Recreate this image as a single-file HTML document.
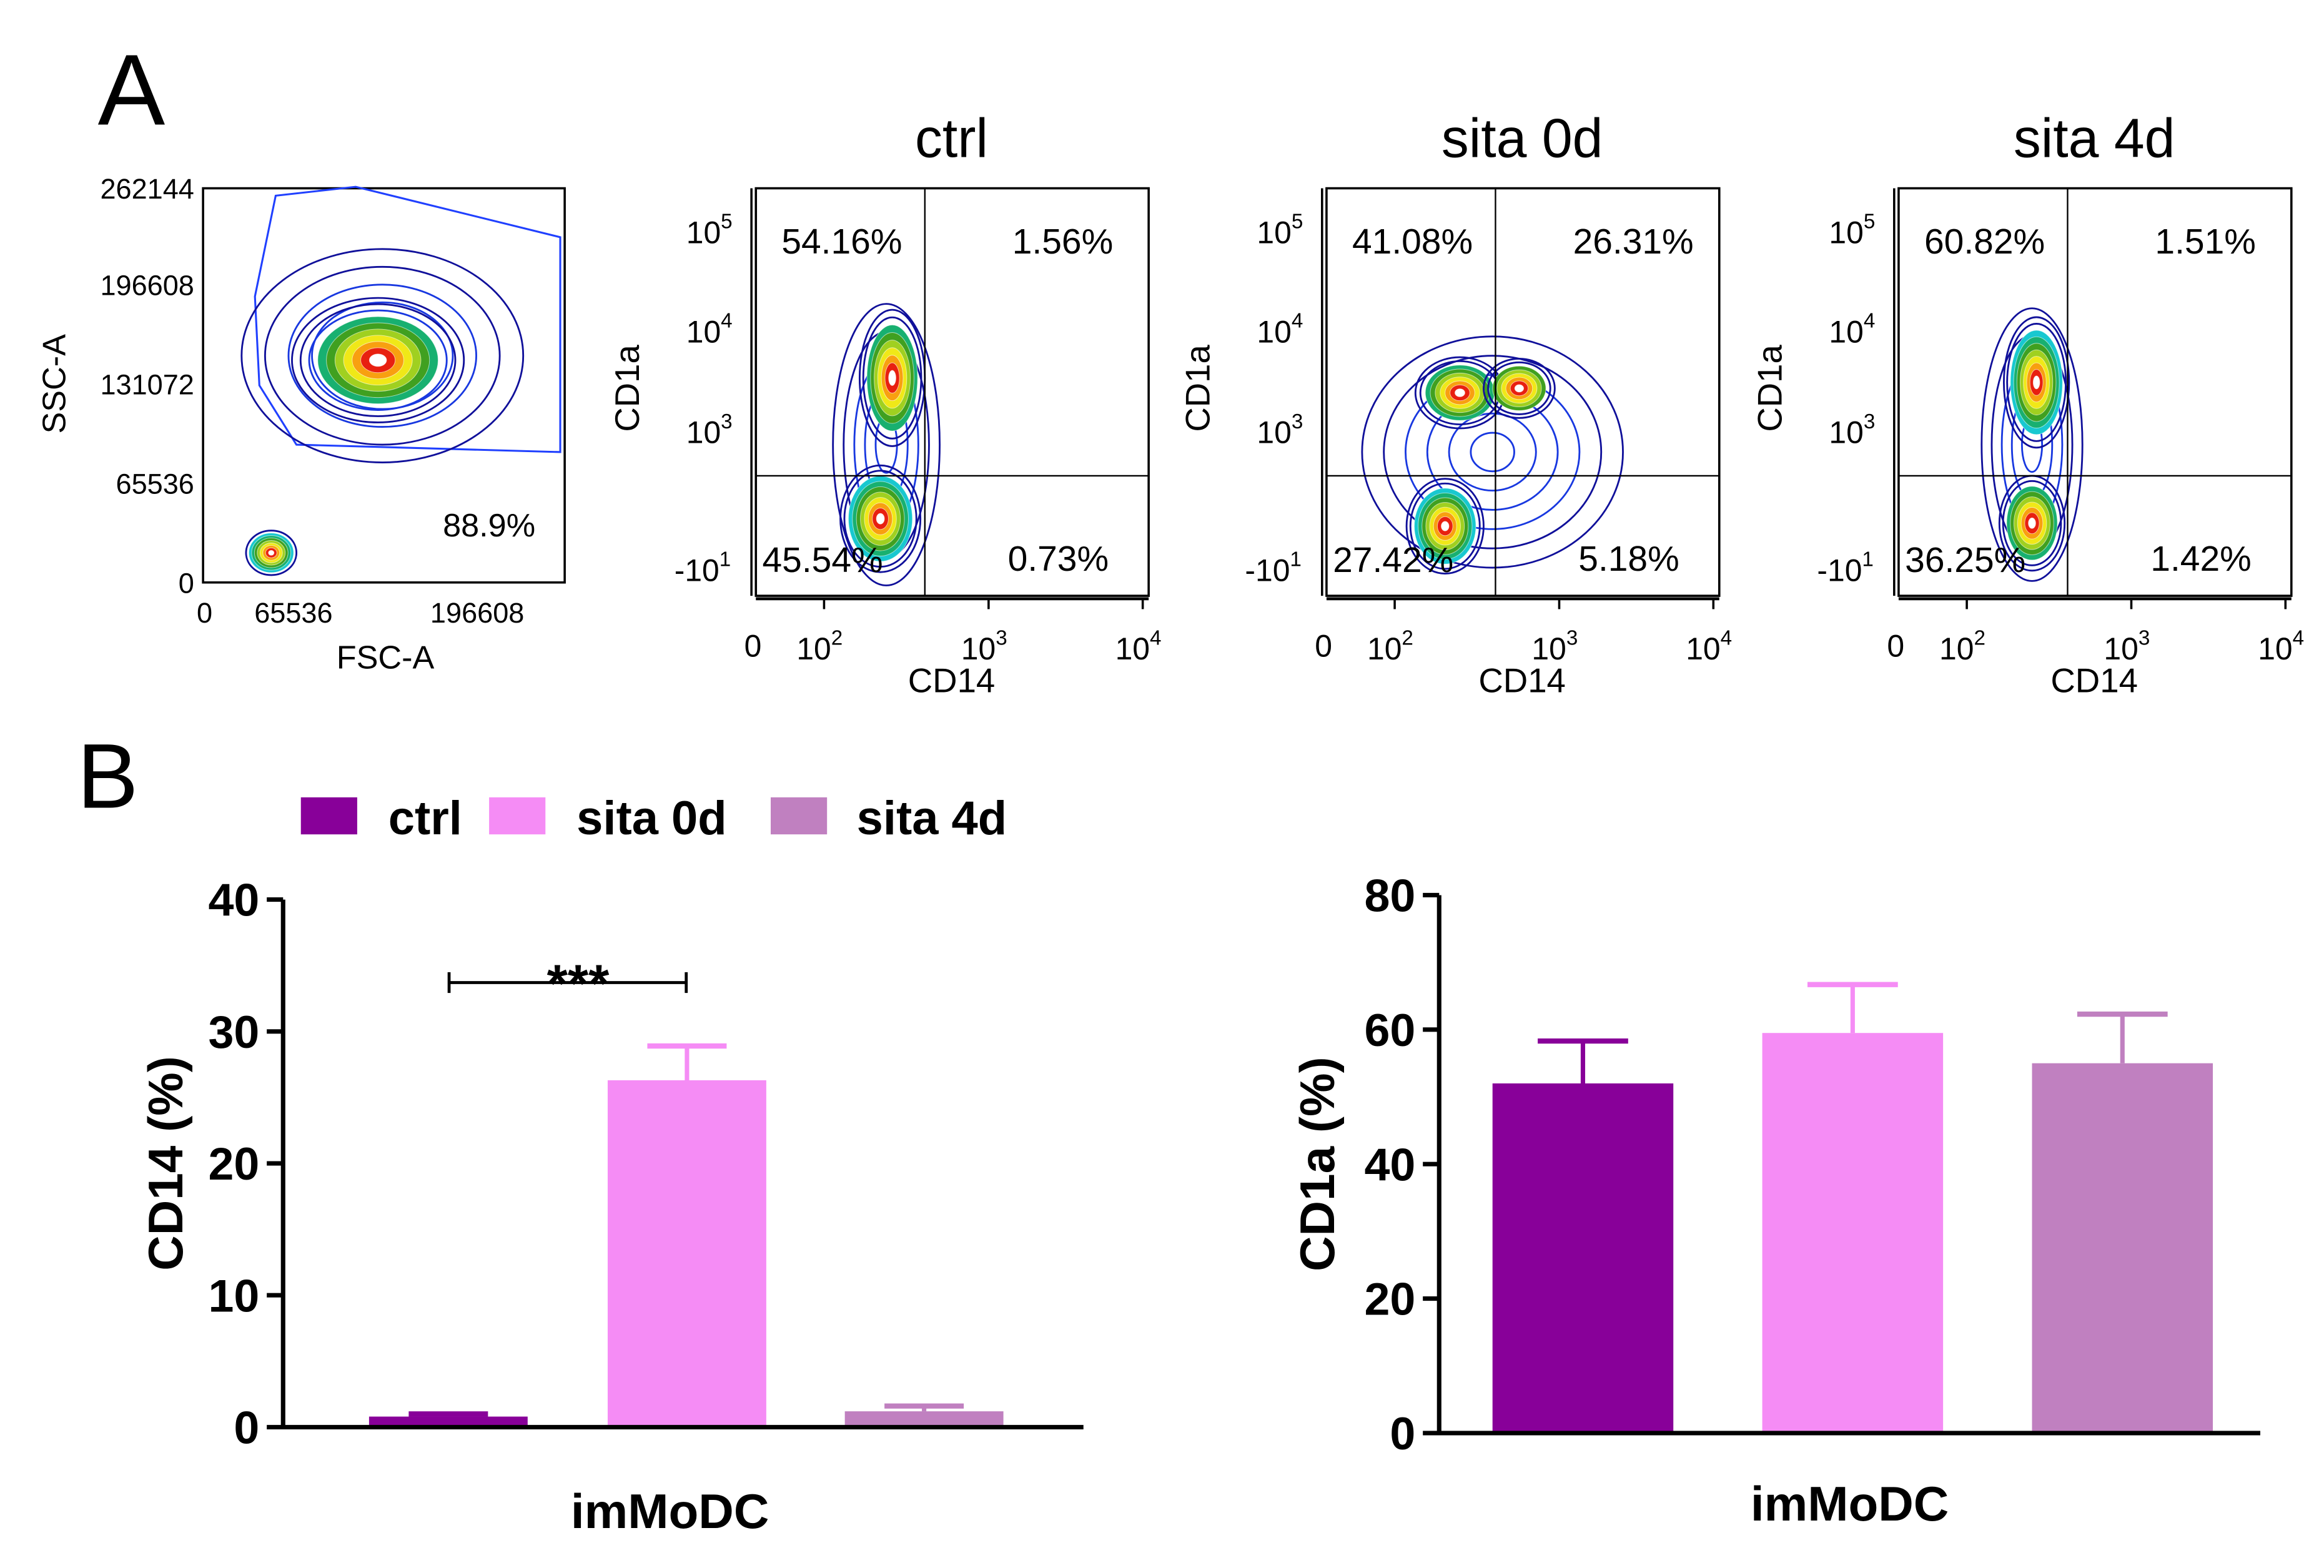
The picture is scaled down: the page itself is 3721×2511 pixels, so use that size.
<!DOCTYPE html>
<html><head><meta charset="utf-8"><style>
html,body{margin:0;padding:0;background:#fff}
svg{display:block}
text{font-family:"Liberation Sans",Arial,sans-serif}
</style></head><body>
<svg id="fig" width="3721" height="2511" viewBox="0 0 1568 1058" xmlns="http://www.w3.org/2000/svg">
<rect width="1568" height="1058" fill="#fff"/>
<text x="66" y="84" font-size="68">A</text>
<text x="52" y="545" font-size="62">B</text>

<g id="fsc">
  <rect x="137" y="127" width="244" height="266" fill="none" stroke="#000" stroke-width="1.5"/>
  <polygon points="186,132 240,126 378,160 378,305 200,300 175,260 172,200" fill="none" stroke="#2040ff" stroke-width="1.3"/>
  <g font-size="19" text-anchor="end">
    <text x="131" y="134">262144</text><text x="131" y="199">196608</text><text x="131" y="266">131072</text><text x="131" y="333">65536</text><text x="131" y="400">0</text>
  </g>
  <g font-size="19" text-anchor="middle">
    <text x="138" y="420">0</text><text x="198" y="420">65536</text><text x="322" y="420">196608</text>
  </g>
  <text x="260" y="451" font-size="22" text-anchor="middle">FSC-A</text>
  <text transform="translate(44,259) rotate(-90)" font-size="22" text-anchor="middle">SSC-A</text>
  <text x="330" y="362" font-size="22" text-anchor="middle">88.9%</text>
</g>
<g id="blobs"></g>

<g font-size="32" font-weight="bold">
  <rect x="203" y="538" width="38" height="25" fill="#880099"/>
  <text x="262" y="563">ctrl</text>
  <rect x="330" y="538" width="38" height="25" fill="#f58cf5"/>
  <text x="389" y="563">sita 0d</text>
  <rect x="520" y="538" width="38" height="25" fill="#c080c0"/>
  <text x="578" y="563">sita 4d</text>
</g>
<g id="bars"></g>
</svg>
<script>
const NS='http://www.w3.org/2000/svg';
const svg=document.getElementById('fig');
function mk(tag,attrs,parent,txt){const e=document.createElementNS(NS,tag);for(const k in attrs)e.setAttribute(k,attrs[k]);if(txt!==undefined)e.textContent=txt;(parent||svg).appendChild(e);return e;}

const panelTitles=['ctrl','sita 0d','sita 4d'];
const panelOffsets=[0,385,771];
const ulPct=['54.16%','41.08%','60.82%'];
const urPct=['1.56%','26.31%','1.51%'];
const llPct=['45.54%','27.42%','36.25%'];
const lrPct=['0.73%','5.18%','1.42%'];
const blobColors=['#1a8cf0','#18c8d0','#18b070','#40a020','#a0d020','#f0e818','#f8a010','#e82010','#ffffff'];

// outline rings (blue contour lines), then filled core
function blob(g,cx,cy,rx,ry,rings,core){
  for(let i=0;i<rings;i++){
    const f=1-i/(rings+core);
    mk('ellipse',{cx:cx,cy:cy,rx:rx*f,ry:ry*f,fill:'none',stroke:i<2?'#10109a':'#1838e0','stroke-width':1.2},g);
  }
  for(let j=0;j<core;j++){
    const f=1-(rings+j)/(rings+core);
    mk('ellipse',{cx:cx,cy:cy,rx:Math.max(1.5,rx*f),ry:Math.max(1.5,ry*f),fill:blobColors[Math.min(j+ (9-core),blobColors.length-1)],stroke:'#fff','stroke-width':0.4,'stroke-opacity':0.6},g);
  }
}
const bg=document.getElementById('blobs');
blob(bg,258,240,95,72,6,0);
blob(bg,255,243,58,42,3,7);
blob(bg,183,373,17,15,1,8);

panelTitles.forEach((t,i)=>{
  const o=panelOffsets[i];
  const g=mk('g',{},svg);
  
  
  if(i===0){
    blob(g,598,300,36,95,5,0);
    blob(g,602,255,22,46,2,7);
    blob(g,594,350,27,36,2,8);
  }else if(i===1){
    blob(g,o+622,305,88,78,6,0);
    blob(g,o+600,265,30,24,2,7);
    blob(g,o+640,262,24,20,2,6);
    blob(g,o+590,355,26,32,2,8);
  }else{
    blob(g,o+600,300,34,92,5,0);
    blob(g,o+603,258,22,44,2,8);
    blob(g,o+600,353,22,32,2,7);
  }
  mk('rect',{x:o+510,y:127,width:265,height:275,fill:'none',stroke:'#000','stroke-width':1.5},g);
  mk('line',{x1:o+624,y1:127,x2:o+624,y2:402,stroke:'#000','stroke-width':1},g);
  mk('line',{x1:o+510,y1:321,x2:o+775,y2:321,stroke:'#000','stroke-width':1},g);
  const tt=mk('text',{x:o+642,y:106,'font-size':37,'text-anchor':'middle'},g,t);
  
  
  mk('text',{x:o+568,y:171,'font-size':24,'text-anchor':'middle'},g,ulPct[i]);
  mk('text',{x:o+717,y:171,'font-size':24,'text-anchor':'middle'},g,urPct[i]);
  mk('text',{x:o+555,y:386,'font-size':24,'text-anchor':'middle'},g,llPct[i]);
  mk('text',{x:o+714,y:385,'font-size':24,'text-anchor':'middle'},g,lrPct[i]);
  [['10','5',164],['10','4',231],['10','3',299]].forEach(([b,e,y])=>{
    const tx=mk('text',{x:o+463,y:y,'font-size':21},g);
    tx.appendChild(document.createTextNode(b));
    mk('tspan',{dy:-10,'font-size':14},tx,e);
  });
  const ty=mk('text',{x:o+455,y:392,'font-size':21},g);ty.appendChild(document.createTextNode('-10'));mk('tspan',{dy:-10,'font-size':14},ty,'1');
  mk('line',{x1:o+510,y1:404,x2:o+775,y2:404,stroke:'#000','stroke-width':2},g);
  [o+556,o+667,o+771].forEach(x=>mk('line',{x1:x,y1:404,x2:x,y2:411,stroke:'#000','stroke-width':1.5},g));
  mk('text',{x:o+508,y:443,'font-size':21,'text-anchor':'middle'},g,'0');
  [['2',o+553],['3',o+664],['4',o+768]].forEach(([e,x])=>{
    const tx=mk('text',{x:x,y:445,'font-size':21,'text-anchor':'middle'},g);
    tx.appendChild(document.createTextNode('10'));mk('tspan',{dy:-10,'font-size':14},tx,e);
  });
  mk('line',{x1:o+507,y1:127,x2:o+507,y2:402,stroke:'#000','stroke-width':1.5},g);
  const xl=mk('text',{x:o+642,y:467,'font-size':23,'text-anchor':'middle'},g,'CD14');
  
  
  const yl=mk('text',{transform:'translate('+(o+431)+',262) rotate(-90)','font-size':23,'text-anchor':'middle'},g,'CD1a');
  
  
});

const groups=['ctrl','sita 0d','sita 4d'];
const barColors=['#880099','#f58cf5','#c080c0'];
const cd14Values=[0.8,26.3,1.2];
const cd14Errors=[1.0,28.9,1.6];
const cd14Ticks=[0,10,20,30,40];
const cd1aValues=[52,59.5,55];
const cd1aErrors=[58.3,66.7,62.3];
const cd1aTicks=[0,20,40,60,80];

function barChart(cfg){
  const g=mk('g',{},document.getElementById('bars'));
  
  
  const yS=v=>cfg.y0-(v-cfg.min)/(cfg.max-cfg.min)*(cfg.y0-cfg.y1);
  cfg.values.forEach((v,i)=>{
    const x=cfg.barX[i], w=cfg.barW;
    const el=mk('line',{x1:x+w/2,y1:yS(v),x2:x+w/2,y2:yS(cfg.errs[i]),stroke:barColors[i],'stroke-width':3},g);
    
    
    const cap=mk('line',{x1:x+w/4,y1:yS(cfg.errs[i]),x2:x+3*w/4,y2:yS(cfg.errs[i]),stroke:barColors[i],'stroke-width':3.5},g);
    
    
    const r=mk('rect',{x:x,y:yS(v),width:w,height:cfg.y0-yS(v),fill:barColors[i]},g);
    
    
  });
  mk('line',{x1:cfg.ax,y1:cfg.y1,x2:cfg.ax,y2:cfg.y0+1.5,stroke:'#000','stroke-width':3},g);
  mk('line',{x1:cfg.ax,y1:cfg.y0,x2:cfg.xEnd,y2:cfg.y0,stroke:'#000','stroke-width':3},g);
  cfg.ticks.forEach(t=>{
    mk('line',{x1:cfg.ax-11,y1:yS(t),x2:cfg.ax,y2:yS(t),stroke:'#000','stroke-width':3},g);
    const tl=mk('text',{x:cfg.ax-16,y:yS(t)+11,'font-size':31,'font-weight':'bold','text-anchor':'end'},g,String(t));
    
    
  });
  const yt=mk('text',{transform:'translate('+cfg.ytx+','+((cfg.y0+cfg.y1)/2)+') rotate(-90)','font-size':33,'font-weight':'bold','text-anchor':'middle'},g,cfg.ytitle);
  
  
  const xt=mk('text',{x:cfg.xtx,y:cfg.xty,'font-size':33,'font-weight':'bold','text-anchor':'middle'},g,'imMoDC');
  
  
  return {g,yS};
}
const c1=barChart({name:'cd14-bar-chart',values:cd14Values,errs:cd14Errors,ticks:cd14Ticks,min:0,max:40,y0:963,y1:607,ax:191,xEnd:731,barX:[249,410,570],barW:107,ytitle:'CD14 (%)',ytx:123,xtx:452,xty:1031});
const sig=mk('g',{},c1.g);


mk('line',{x1:303,y1:663,x2:463,y2:663,stroke:'#000','stroke-width':2},sig);
mk('line',{x1:303,y1:656,x2:303,y2:670,stroke:'#000','stroke-width':2},sig);
mk('line',{x1:463,y1:656,x2:463,y2:670,stroke:'#000','stroke-width':2},sig);
mk('text',{x:390,y:676,'font-size':36,'font-weight':'bold','text-anchor':'middle'},sig,'***');
barChart({name:'cd1a-bar-chart',values:cd1aValues,errs:cd1aErrors,ticks:cd1aTicks,min:0,max:80,y0:967,y1:604,ax:971,xEnd:1525,barX:[1007,1189,1371],barW:122,ytitle:'CD1a (%)',ytx:900,xtx:1248,xty:1026});
</script>
</body></html>
